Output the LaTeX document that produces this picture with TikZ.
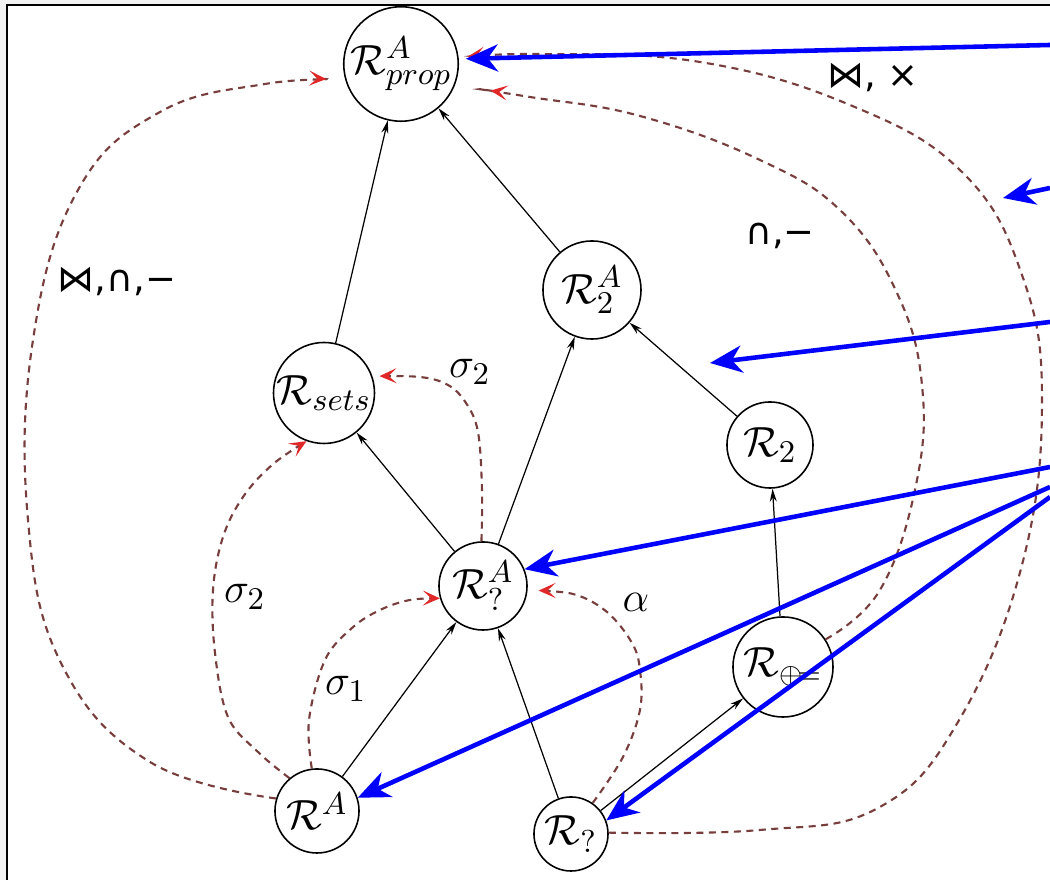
\documentclass[tikz,border=0pt]{standalone}
\usepackage{fontspec}
\newfontfamily\djv{DejaVu Sans}
\usetikzlibrary{arrows.meta}
\definecolor{dcol}{RGB}{120,62,62}
\definecolor{tipred}{RGB}{225,40,40}
\begin{document}
\begin{tikzpicture}[x=0.01cm,y=-0.01cm,
  st/.style={circle,draw,line width=0.45pt,inner sep=0pt,font=\fontsize{13}{15}\selectfont},
  edge/.style={-{Stealth[length=0.13cm,width=0.07cm]},line width=0.35pt},
  dsh/.style={line width=0.6pt, dash pattern=on 0.07cm off 0.055cm, draw=dcol,
     -{Stealth[tipred,length=0.17cm,width=0.15cm,inset=0.08cm]}},
  blu/.style={draw=blue, line width=1.3pt, -{Stealth[blue,length=0.32cm,width=0.27cm,inset=0.1cm]}},
  lab/.style={font=\fontsize{13}{15}\selectfont},
  slab/.style={font=\djv\fontsize{10.5}{12}\selectfont}
]
\useasboundingbox (0,0) rectangle (1050,880);
\fill[gray!10] (0,0) rectangle (1050,880);
\fill[white] (7,5) rectangle (1050,880);
\draw[line width=0.8pt] (7,880) -- (7,5) -- (1050,5);

% nodes
\node[st, minimum size=1.08cm] (Rprop) at (401,64) {$\mathcal{R}^{A}_{prop}$};
\node[st, minimum size=0.98cm] (R2A) at (592,290) {$\mathcal{R}^{A}_{2}$};
\node[st, minimum size=0.94cm] (Rsets) at (324,393) {$\mathcal{R}_{sets}$};
\node[st, minimum size=0.86cm] (R2) at (770,445) {$\mathcal{R}_{2}$};
\node[st, minimum size=0.88cm] (RqA) at (483,586) {$\mathcal{R}^{A}_{?}$};
\node[st, minimum size=1.0cm, font=\fontsize{12}{14}\selectfont] (Rdot) at (783,667) {$\mathcal{R}_{\oplus\!=}$};
\node[st, minimum size=0.84cm] (RA) at (317,811) {$\mathcal{R}^{A}$};
\node[st, minimum size=0.74cm] (Rq) at (571,834) {$\mathcal{R}_{?}$};

% solid edges
\draw[edge] (Rsets) -- (Rprop);
\draw[edge] (R2A) -- (Rprop);
\draw[edge] (RqA) -- (Rsets);
\draw[edge] (RqA) -- (R2A);
\draw[edge] (R2) -- (R2A);
\draw[edge] (Rdot) -- (R2);
\draw[edge] (RA) -- (RqA);
\draw[edge] (Rq) -- (RqA);
\draw[edge] (Rq) -- (Rdot);

% dashed curves
\draw[dsh, shorten >=0.19cm] plot[smooth,tension=0.7] coordinates {(RA.163) (150,762) (62,665) (28,520) (33,340) (78,190) (160,112) (265,84) (Rprop.196)};
\draw[dsh] plot[smooth,tension=0.6] coordinates {(RA.130) (258,752) (228,717) (215,653) (213,590) (223,537) (243,497) (272,465) (Rsets.-110)};
\draw[dsh] plot[smooth,tension=0.6] coordinates {(RA.97) (309,720) (325,660) (352,628) (380,610) (410,600) (RqA.196)};
\draw[dsh, shorten >=0.07cm] plot[smooth,tension=0.6] coordinates {(RqA.92) (482,490) (478,432) (466,403) (448,385) (420,377) (Rsets.19)};
\draw[dsh, shorten >=0.11cm] plot[smooth,tension=0.6] coordinates {(Rq.55) (623,757) (640,710) (640,670) (632,643) (607,612) (573,594) (RqA.-6)};
\draw[dsh, shorten >=0.36cm] plot[smooth,tension=0.7] coordinates {(Rdot.33) (880,590) (916,485) (922,385) (897,293) (842,212) (760,160) (640,116) (530,97) (Rprop.-22)};
\draw[dsh, shorten >=0.09cm] plot[smooth,tension=0.7] coordinates {(Rq.2) (760,830) (878,808) (958,722) (1022,565) (1042,400) (1022,275) (962,172) (850,105) (700,62) (540,54) (Rprop.6)};

% labels
\node[slab] (l1) at (117,282) {⋈,∩,−};
\node[slab] (l2) at (873,78) {⋈, ×};
\node[slab] (l3) at (780,236) {∩,−};
\node[lab] (s2a) at (470,372) {$\sigma_2$};
\node[lab] (s2b) at (245,597) {$\sigma_2$};
\node[lab] (s1) at (346,689) {$\sigma_1$};
\node[lab] (al) at (636,602) {$\alpha$};

% blue arrows
\coordinate (b1) at (1050,45);
\coordinate (b2) at (1050,188);
\coordinate (t2) at (1003,198);
\coordinate (b3) at (1050,322);
\coordinate (t3) at (710,363);
\coordinate (b4) at (1050,467);
\coordinate (b5) at (1050,487);
\coordinate (b6) at (1050,497);
\draw[blu, shorten >=0.07cm] (b1) -- (Rprop.5);
\draw[blu] (b2) -- (t2);
\draw[blu] (b3) -- (t3);
\draw[blu] (b4) -- (RqA.22);
\draw[blu] (b5) -- (RA.18);
\draw[blu] (b6) -- (Rq.21);
\end{tikzpicture}
\end{document}
